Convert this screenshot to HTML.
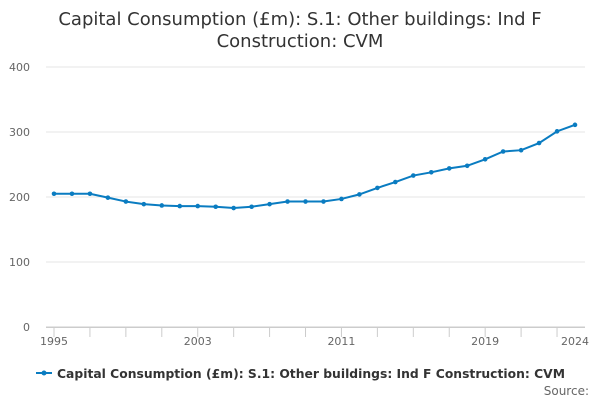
<!DOCTYPE html>
<html><head><meta charset="utf-8"><style>
body{margin:0;background:#fff;font-family:"Liberation Sans","DejaVu Sans",sans-serif;}
svg{display:block}
</style></head><body>
<svg id="chart" width="600" height="400" xmlns="http://www.w3.org/2000/svg">
<text x="300" y="25" text-anchor="middle" font-size="18" fill="#333" font-family="DejaVu Sans, sans-serif">Capital Consumption (£m): S.1: Other buildings: Ind F</text>
<text x="300" y="47" text-anchor="middle" font-size="18" fill="#333" font-family="DejaVu Sans, sans-serif">Construction: CVM</text>
<g id="grid"></g><g id="xaxis"></g><g id="series"></g>
<g>
<line x1="36" y1="373" x2="52" y2="373" stroke="#0a7cc1" stroke-width="2"/>
<circle cx="44" cy="373" r="2.5" fill="#0a7cc1"/>
<text x="57" y="378" font-size="12.5" font-weight="bold" fill="#333" textLength="508" lengthAdjust="spacingAndGlyphs" font-family="DejaVu Sans, sans-serif">Capital Consumption (£m): S.1: Other buildings: Ind F Construction: CVM</text>
</g>
<text x="589" y="395" text-anchor="end" font-size="12" fill="#666" font-family="DejaVu Sans, sans-serif">Source:</text>
</svg>
<script>
const years=[1995,1996,1997,1998,1999,2000,2001,2002,2003,2004,2005,2006,2007,2008,2009,2010,2011,2012,2013,2014,2015,2016,2017,2018,2019,2020,2021,2022,2023,2024];
const values=[205,205,205,199,193,189,187,186,186,185,183,185,189,193,193,193,197,204,214,223,233,238,244,248,258,270,272,283,301,311];
const yTicks=[0,100,200,300,400];
const xTicks=[1995,2003,2011,2019,2024];
const NS="http://www.w3.org/2000/svg";
const x=v=>54+(v-1995)*(575-54)/29;
const y=v=>327-v*0.65;
function mk(t,a,p){const e=document.createElementNS(NS,t);for(const k in a)e.setAttribute(k,a[k]);p.appendChild(e);return e;}
const g=document.getElementById('grid');
yTicks.forEach(t=>{
 const l=mk('line',{x1:46,x2:585,y1:y(t),y2:y(t),stroke:t===0?'#ccc':'#e6e6e6','stroke-width':1},g);
 
 
 const tx=mk('text',{x:30,y:y(t)+4,'text-anchor':'end','font-size':11,fill:'#666','font-family':'DejaVu Sans, sans-serif'},g);
 tx.textContent=t;
 
 
});
const xa=document.getElementById('xaxis');
mk('line',{x1:46,x2:585,y1:327.5,y2:327.5,stroke:'#ccc'},xa);
for(let yr=1995;yr<=2024;yr+=2){mk('line',{x1:x(yr),x2:x(yr),y1:327,y2:337,stroke:'#ccc'},xa);}
xTicks.forEach(t=>{
 const tx=mk('text',{x:x(t),y:345,'text-anchor':'middle','font-size':11,fill:'#666','font-family':'DejaVu Sans, sans-serif'},xa);
 tx.textContent=t;
 
 
});
const s=document.getElementById('series');
const p=mk('polyline',{points:years.map((yr,i)=>x(yr)+','+y(values[i])).join(' '),fill:'none',stroke:'#0a7cc1','stroke-width':2},s);


years.forEach((yr,i)=>{
 const c=mk('circle',{cx:x(yr),cy:y(values[i]),r:2.3,fill:'#0a7cc1'},s);
 
 
});
</script>
</body></html>
